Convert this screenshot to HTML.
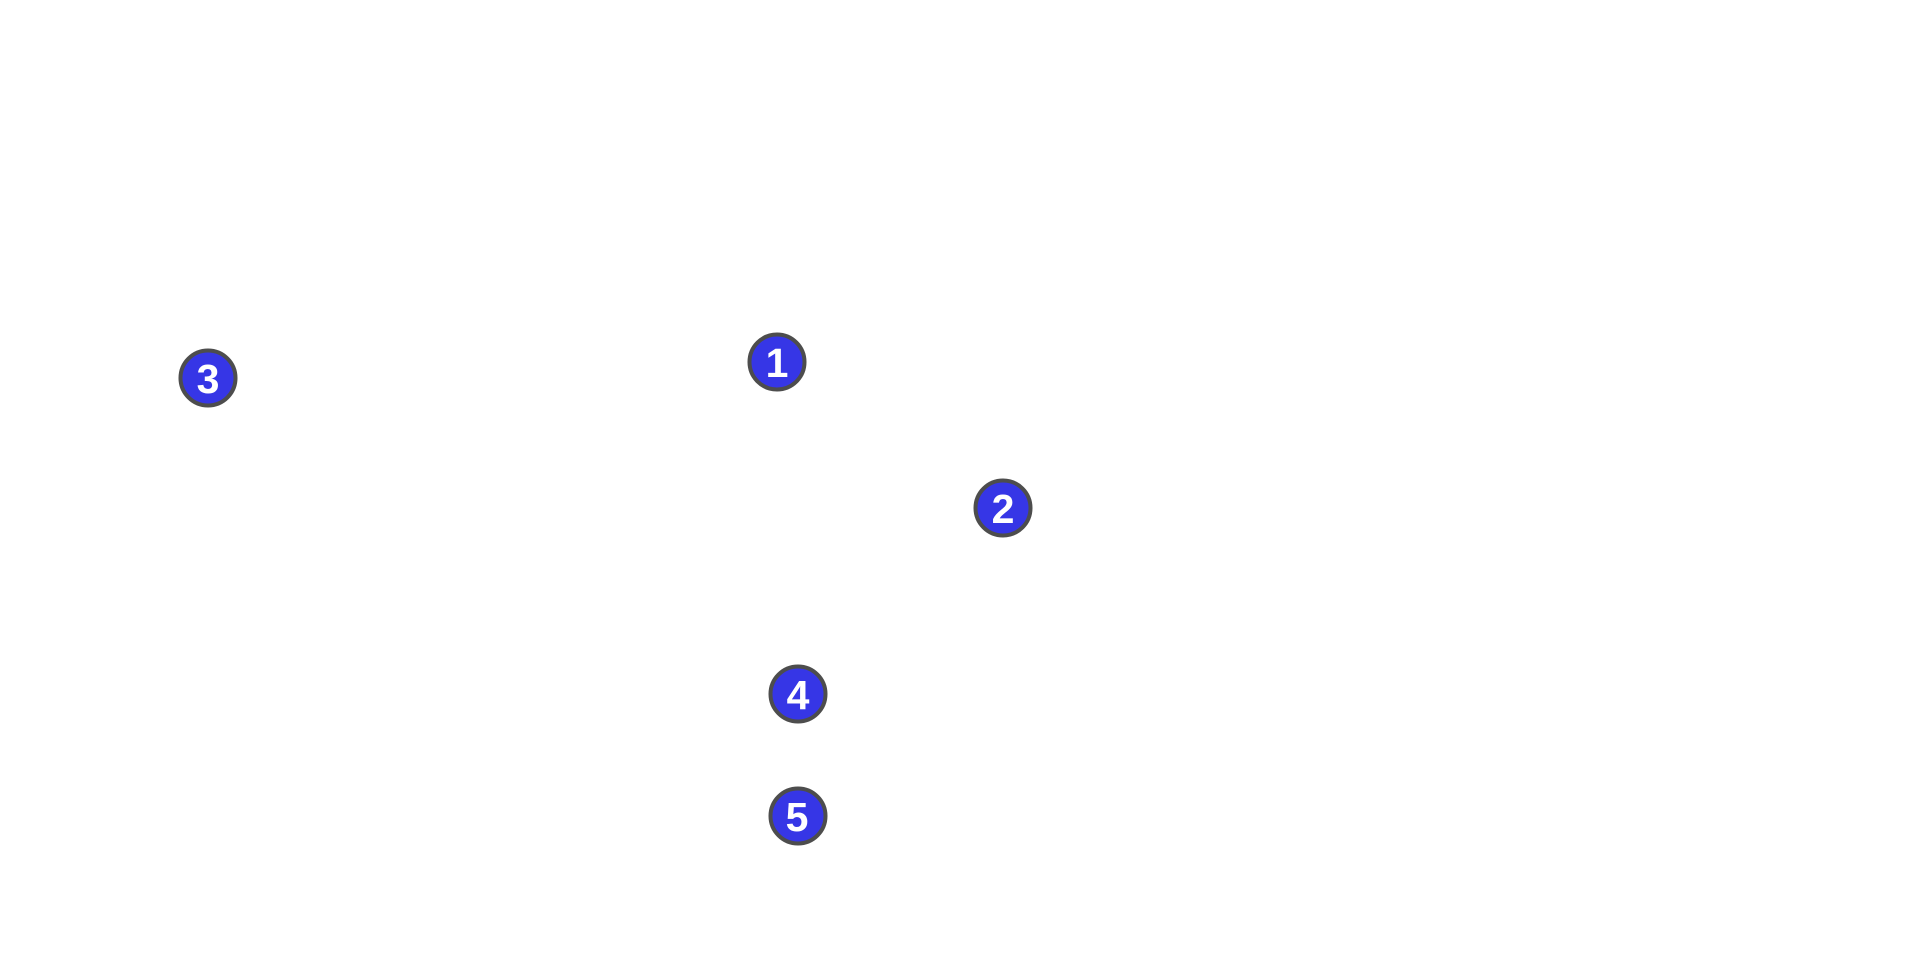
<!DOCTYPE html>
<html><head><style>
html,body{margin:0;padding:0;background:#fff;width:1921px;height:961px;overflow:hidden}
</style></head><body>
<svg width="1921" height="961" xmlns="http://www.w3.org/2000/svg">
<g fill="#3636e6" stroke="#4d4d4d" stroke-width="4">
<circle cx="777" cy="362" r="27.5"/>
<circle cx="1003" cy="508" r="27.5"/>
<circle cx="208" cy="378" r="27.5"/>
<circle cx="798" cy="694" r="27.5"/>
<circle cx="798" cy="816" r="27.5"/>
</g>
<g fill="#fff" font-family="Liberation Sans, sans-serif" font-weight="bold" font-size="41" text-anchor="middle">
<text x="777" y="377">1</text>
<text x="1003" y="523">2</text>
<text x="208" y="393">3</text>
<text x="798" y="709">4</text>
<text x="797" y="831">5</text>
</g>
</svg>
</body></html>
